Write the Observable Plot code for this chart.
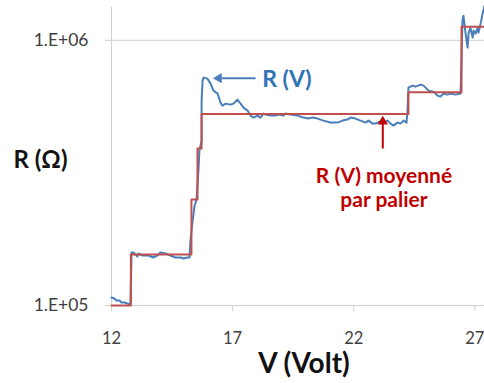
<!DOCTYPE html>
<html>
<head>
<meta charset="utf-8">
<script src="https://cdn.jsdelivr.net/npm/d3@7"></script>
<script src="https://cdn.jsdelivr.net/npm/@observablehq/plot@0.6"></script>
<style>
  html, body { margin: 0; padding: 0; background: #fff; }
  #chart { width: 484px; height: 383px; }
</style>
</head>
<body>
<div id="chart"></div>
<script>
// ---- Data ----
// Measured resistance R(V)
const blueV = [12.00,12.12,12.21,12.33,12.41,12.54,12.66,12.78,12.83,12.91,13.07,13.11,13.28,13.53,13.73,13.90,14.02,14.23,14.44,14.64,14.85,14.97,15.14,15.22,15.26,15.34,15.43,15.51,15.59,15.63,15.72,15.72,15.76,15.80,15.96,16.09,16.21,16.38,16.50,16.58,16.71,16.91,17.04,17.20,17.33,17.45,17.62,17.74,17.86,18.03,18.15,18.28,18.36,18.56,18.77,18.90,19.10,19.18,19.39,19.68,19.93,20.13,20.30,20.51,20.75,21.04,21.33,21.54,21.74,21.87,22.07,22.28,22.49,22.61,22.78,22.90,23.07,23.23,23.40,23.52,23.64,23.81,23.93,24.06,24.18,24.22,24.26,24.43,24.55,24.76,24.88,25.01,25.09,25.29,25.46,25.58,25.71,25.87,26.00,26.20,26.41,26.45,26.49,26.53,26.62,26.70,26.74,26.82,26.91,26.95,27.03,27.12,27.15,27.24,27.32,27.40];
const blueR = [1.072e5,1.063e5,1.044e5,1.044e5,1.026e5,1.026e5,1.017e5,1.009e5,1.584e5,1.584e5,1.530e5,1.570e5,1.544e5,1.544e5,1.517e5,1.544e5,1.584e5,1.570e5,1.544e5,1.517e5,1.517e5,1.504e5,1.517e5,1.517e5,1.758e5,2.056e5,2.382e5,2.509e5,3.228e5,3.840e5,4.187e5,5.925e5,7.049e5,7.234e5,7.171e5,6.867e5,6.462e5,6.297e5,5.823e5,5.674e5,5.773e5,5.723e5,5.773e5,5.977e5,5.773e5,5.576e5,5.433e5,5.203e5,5.113e5,5.203e5,5.113e5,5.294e5,5.248e5,5.203e5,5.203e5,5.248e5,5.203e5,5.294e5,5.248e5,5.203e5,5.113e5,5.069e5,5.113e5,5.069e5,4.981e5,4.896e5,4.896e5,4.981e5,5.025e5,5.113e5,5.069e5,4.981e5,4.896e5,4.981e5,4.853e5,4.853e5,4.938e5,4.896e5,4.981e5,4.853e5,4.770e5,4.896e5,4.853e5,4.981e5,4.896e5,5.433e5,6.633e5,6.749e5,6.690e5,6.808e5,6.749e5,6.575e5,6.462e5,6.406e5,6.189e5,6.136e5,6.297e5,6.242e5,6.297e5,6.242e5,6.297e5,8.386e5,1.187e6,1.239e6,1.060e6,9.387e5,1.060e6,1.117e6,1.024e6,1.088e6,1.060e6,1.117e6,1.069e6,1.156e6,1.261e6,1.352e6];

// Step-averaged resistance ("moyenné par palier")
const stepV = [12.00, 12.80, 15.30, 15.55, 15.72, 24.26, 26.45, 27.40];
const stepR = [1.000e5, 1.556e5, 2.509e5, 3.907e5, 5.280e5, 6.368e5, 1.126e6, 1.126e6];

// Axes
const xTicks = [12, 17, 22, 27];
const yTicks = [1e5, 1e6];
const yTickLabels = ["1.E+05", "1.E+06"];
const xDomain = [12, 27.4];
const yDomain = [1e5, 1.33e6];

// Annotations
const blueLabel = [{V: 18.22, R: 7.12e5, text: "R (V)"}];
const blueArrowLine = [{V1: 16.55, V2: 17.95, R: 7.20e5}];
const blueArrowHead = [{V: 16.43, R: 7.20e5}];
const redLabel = [{V: 23.25, R: 3.36e5, text: "R (V) moyenné\npar palier"}];
const redArrowLine = [{V: 23.20, R1: 3.907e5, R2: 4.85e5}];
const redArrowHead = [{V: 23.20, R: 4.94e5}];

const blue = blueV.map((v, i) => ({V: v, R: blueR[i]}));
const step = stepV.map((v, i) => ({V: v, R: stepR[i]}));

const BLUE = "#4a7ebb";
const RED = "#c0504d";
const BLUE_TXT = "#2f74b5";
const RED_TXT = "#c00000";
const FONT = "Lato, 'Open Sans', sans-serif";

const chart = Plot.plot({
  width: 484,
  height: 383,
  marginLeft: 111,
  marginRight: 0,
  marginTop: 7,
  marginBottom: 78,
  x: {domain: xDomain},
  y: {type: "log", domain: yDomain},
  style: {fontFamily: FONT, background: "#fff", overflow: "visible"},
  marks: [
    Plot.gridY(yTicks.slice(1), {stroke: "#d0d0d0", strokeOpacity: 1}),
    Plot.ruleX([xDomain[0]], {stroke: "#d0d0d0"}),
    Plot.ruleY([yDomain[0]], {stroke: "#d0d0d0"}),
    Plot.axisX({ticks: xTicks, tickSize: 6, tickPadding: 21, stroke: "#d0d0d0", fill: "#404040", fontSize: 16.5, label: null}),
    Plot.axisY({ticks: yTicks, tickFormat: (d) => yTickLabels[yTicks.indexOf(d)], tickSize: 6, tickPadding: 17, stroke: "#d0d0d0", fill: "#404040", fontSize: 17.5, label: null}),
    Plot.line(blue, {x: "V", y: "R", stroke: BLUE, strokeWidth: 2}),
    Plot.line(step, {x: "V", y: "R", curve: "step-after", stroke: RED, strokeWidth: 2}),
    // blue annotation
    Plot.link(blueArrowLine, {x1: "V1", x2: "V2", y1: "R", y2: "R", stroke: BLUE, strokeWidth: 2}),
    Plot.dot(blueArrowHead, {x: "V", y: "R", symbol: "triangle", r: 3.8, rotate: -90, fill: BLUE, stroke: "none"}),
    Plot.text(blueLabel, {x: "V", y: "R", text: "text", textAnchor: "start", lineAnchor: "middle", fill: BLUE_TXT, fontSize: 23, fontWeight: "bold"}),
    // red annotation
    Plot.link(redArrowLine, {x1: "V", x2: "V", y1: "R1", y2: "R2", stroke: RED_TXT, strokeWidth: 2}),
    Plot.dot(redArrowHead, {x: "V", y: "R", symbol: "triangle", r: 3.8, rotate: 0, fill: RED_TXT, stroke: "none"}),
    Plot.text(redLabel, {x: "V", y: "R", text: "text", textAnchor: "middle", lineAnchor: "top", lineHeight: 1.14, fill: RED_TXT, fontSize: 21, fontWeight: "bold"}),
    // axis titles
    Plot.text(["R (Ω)"], {frameAnchor: "left", dx: -71, dy: 4, textAnchor: "middle", lineAnchor: "middle", fontSize: 24, fontWeight: "bold", fill: "#111"}),
    Plot.text(["V (Volt)"], {frameAnchor: "bottom", dx: 6, dy: 59, textAnchor: "middle", lineAnchor: "middle", fontSize: 28, fontWeight: "bold", fill: "#111"})
  ]
});
document.getElementById("chart").appendChild(chart);
</script>
</body>
</html>
